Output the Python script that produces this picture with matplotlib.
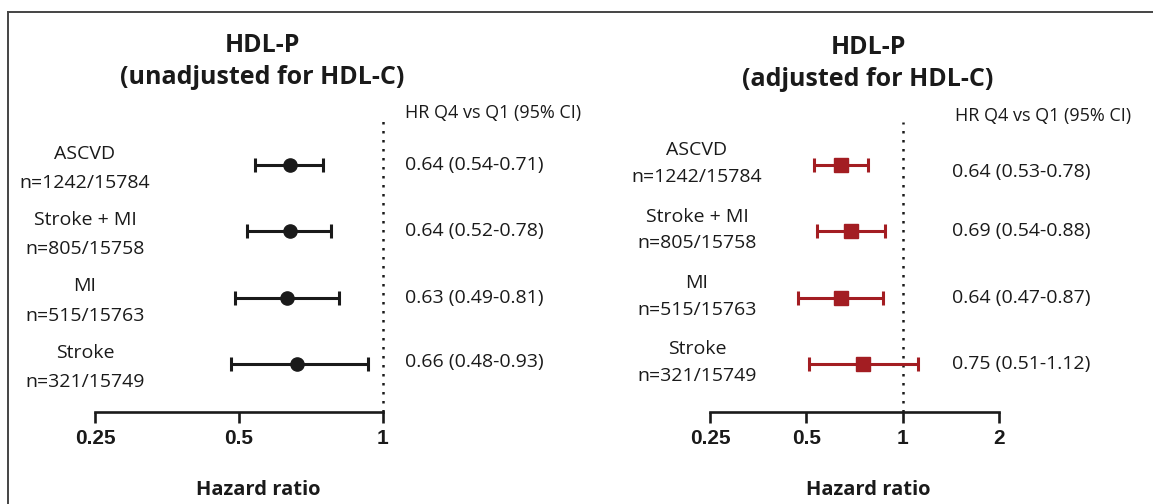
import matplotlib
matplotlib.use("Agg")
import matplotlib.pyplot as plt
from matplotlib.lines import Line2D
from matplotlib.ticker import FixedLocator, FixedFormatter, NullLocator
from matplotlib.transforms import blended_transform_factory

# ---------------- data ----------------
outcomes = ["ASCVD", "Stroke + MI", "MI", "Stroke"]
counts = ["n=1242/15784", "n=805/15758", "n=515/15763", "n=321/15749"]

unadj_hr = [0.64, 0.64, 0.63, 0.66]
unadj_lo = [0.54, 0.52, 0.49, 0.48]
unadj_hi = [0.75, 0.78, 0.81, 0.93]
unadj_txt = ["0.64 (0.54-0.71)", "0.64 (0.52-0.78)", "0.63 (0.49-0.81)", "0.66 (0.48-0.93)"]

# adjusted panel
adj_hr = [0.64, 0.69, 0.64, 0.75]
adj_lo = [0.53, 0.54, 0.47, 0.51]
adj_hi = [0.78, 0.88, 0.87, 1.12]
adj_txt = ["0.64 (0.53-0.78)", "0.69 (0.54-0.88)", "0.64 (0.47-0.87)", "0.75 (0.51-1.12)"]

left_ticks = [0.25, 0.5, 1]
left_ticklabels = ["0.25", "0.5", "1"]
right_ticks = [0.25, 0.5, 1, 2]
right_ticklabels = ["0.25", "0.5", "1", "2"]

# ---------------- layout ----------------
W, H = 1153, 504
fig = plt.figure(figsize=(W / 100, H / 100), dpi=100)
fig.patch.set_facecolor("white")

def fx(x):
    return x / W

def fy(y):
    return 1 - y / H

REG = "Open Sans"
BOLD_TICK = "Liberation Sans"
INK = "#1a1a1a"
RED = "#a31d22"

# border (top + left)
fig.add_artist(Line2D([fx(8), fx(W)], [fy(12), fy(12)], transform=fig.transFigure,
                      color="#444444", lw=1.4))
fig.add_artist(Line2D([fx(8), fx(8)], [fy(12), fy(H)], transform=fig.transFigure,
                      color="#444444", lw=1.4))

row_pos = list(range(len(outcomes)))


def panel(x0, x1, top, xmax, ticks, ticklabels, hr, lo, hi, txt, color, marker, ms,
          title1, title2, title_x, title_y, label_x, name_off, n_off, hrt_x, hrt_offs,
          head_x, head_y, xl_x):
    ax = fig.add_axes([fx(x0), fy(412), fx(x1) - fx(x0), (412 - top) / H])
    ax.set_xscale("log", base=2)
    ax.set_xlim(0.25, xmax)
    # row 0 at pixel 165, spacing ~66.3 px
    sp = 66.3
    ax.set_ylim((412 - 165) / sp, (top - 165) / sp)
    for s in ["top", "left", "right"]:
        ax.spines[s].set_visible(False)
    ax.spines["bottom"].set_linewidth(1.9)
    ax.spines["bottom"].set_color(INK)
    ax.yaxis.set_visible(False)
    ax.xaxis.set_major_locator(FixedLocator(ticks))
    ax.xaxis.set_major_formatter(FixedFormatter(ticklabels))
    ax.xaxis.set_minor_locator(NullLocator())
    ax.tick_params(axis="x", direction="out", length=8, width=1.9, color=INK, pad=4,
                   labelsize=15, labelcolor=INK)
    for lab in ax.get_xticklabels():
        lab.set_fontfamily(BOLD_TICK)
        lab.set_fontweight("bold")
    ax.patch.set_alpha(0)

    ax.axvline(1, color=INK, lw=1.8, linestyle=(0, (1, 2.6)), clip_on=False, zorder=1)

    for i in row_pos:
        ax.errorbar([hr[i]], [i], xerr=[[hr[i] - lo[i]], [hi[i] - hr[i]]], fmt=marker,
                    color=color, ecolor=color, elinewidth=2.2, capsize=5, capthick=2.2,
                    ms=ms, clip_on=False, zorder=3)

    tr = blended_transform_factory(fig.transFigure, ax.transData)
    for i in row_pos:
        ax.text(fx(label_x), i + name_off, outcomes[i], transform=tr, ha="center",
                va="center", fontsize=14, family=REG, color=INK)
        ax.text(fx(label_x), i + n_off, counts[i], transform=tr, ha="center",
                va="center", fontsize=14, family=REG, color=INK)
        ax.text(fx(hrt_x), i + hrt_offs[i], txt[i], transform=tr, ha="left",
                va="center", fontsize=14, family=REG, color=INK)

    fig.text(fx(head_x), fy(head_y), "HR Q4 vs Q1 (95% CI)", ha="left", va="center",
             fontsize=13, family=REG, color=INK)
    fig.text(fx(title_x), fy(title_y), title1, ha="center", va="center", fontsize=18,
             family=REG, fontweight="bold", color=INK)
    fig.text(fx(title_x), fy(title_y + 32), title2, ha="center", va="center", fontsize=18,
             family=REG, fontweight="bold", color=INK)
    fig.text(fx(xl_x), fy(490), "Hazard ratio", ha="center", va="center", fontsize=14.5,
             family=REG, fontweight="bold", color=INK)
    return ax


panel(95, 383, 120, 1, left_ticks, left_ticklabels, unadj_hr, unadj_lo, unadj_hi,
      unadj_txt, "#1a1a1a", "o", 9.5,
      "HDL-P", "(unadjusted for HDL-C)", 262, 45, 85, -0.17, 0.27, 405,
      [0, 0, 0, -0.03], 405, 113, 258)

panel(710, 999, 122, 2, right_ticks, right_ticklabels, adj_hr, adj_lo, adj_hi,
      adj_txt, RED, "s", 9.5,
      "HDL-P", "(adjusted for HDL-C)", 868, 47, 697, -0.22, 0.18, 952,
      [0.1, 0, 0, 0], 955, 116, 868)

fig.savefig("out.png", dpi=100, facecolor="white")
